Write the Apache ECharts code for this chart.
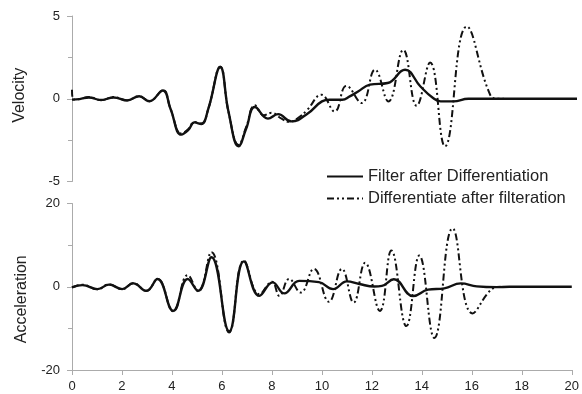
<!DOCTYPE html>
<html>
<head>
<meta charset="utf-8">
<script src="https://cdn.jsdelivr.net/npm/echarts@6/dist/echarts.min.js"></script>
<style>
  html, body { margin: 0; padding: 0; background: #fff; }
  #chart { width: 582px; height: 394px; }
</style>
</head>
<body>
<div id="chart"></div>
<script>
"use strict";
// legend names
var seriesNames = ['Filter after Differentiation', 'Differentiate after filteration'];

// velocity, [time, value]
var velFilter = [[0,-0.05],[0.3,-0.02],[0.67,0.08],[1.15,-0.08],[1.65,0.08],[2.18,-0.1],[2.66,0.15],[3.06,-0.15],
  [3.6,0.5],[3.9,-0.6],[4.33,-2.17],[4.6,-1.9],[4.85,-1.43],[5.12,-1.53],[5.4,-0.6],[5.87,1.9],[6.2,-0.8],
  [6.6,-2.87],[6.9,-1.8],[7.24,-0.5],[7.76,-1.2],[8.16,-0.93],[8.69,-1.37],[9.35,-0.87],[9.9,-0.16],[10.2,-0.06],
  [10.7,-0.06],[11.0,0.14],[11.33,0.44],[11.8,0.85],[12.5,0.95],[13.19,1.75],[13.8,0.74],[14.3,0.04],[14.6,-0.16],
  [15.1,-0.16],[15.7,0],[17,0],[20,0]];
var velDiff = [[0,0.55],[0.05,-0.05],[0.3,-0.02],[0.67,0.1],[1.15,-0.08],[1.65,0.1],[2.18,-0.1],[2.66,0.15],[3.06,-0.15],
  [3.6,0.5],[3.9,-0.6],[4.33,-2.1],[4.6,-1.85],[4.85,-1.4],[5.12,-1.5],[5.4,-0.6],[5.87,1.95],[6.2,-0.8],
  [6.6,-2.8],[6.9,-1.7],[7.24,-0.4],[7.6,-1.0],[7.9,-0.85],[8.3,-1.2],[8.6,-1.4],[8.96,-1.15],[9.3,-0.7],
  [9.88,0.24],[10.4,-0.77],[10.87,0.78],[11.47,-0.26],[12,1.75],[12.53,-0.16],[13.12,2.95],[13.65,-0.42],
  [14.18,2.19],[14.77,-2.87],[15.63,4.36],[16.56,0.24],[16.9,0],[17.1,0]];

// acceleration, [time, value]
var accFilter = [[0,-0.15],[0.42,0.4],[1.02,-0.56],[1.48,0.5],[2.01,-0.56],[2.45,0.8],[2.98,-0.97],[3.42,1.87],
  [4.05,-5.8],[4.63,1.87],[5.05,-0.97],[5.58,7.1],[6.29,-10.7],[6.88,6.1],[7.5,-2.2],[8.03,1.06],[8.49,-1.6],
  [9.09,1.4],[9.88,1.1],[10.45,-0.56],[11.0,1.3],[11.5,0.65],[12.1,0.05],[12.4,0.2],[12.88,1.8],[13.65,-2.25],
  [14.25,-0.7],[14.9,-0.4],[15.56,0.8],[16.2,0.1],[17,-0.1],[17.5,0],[20,0]];
var accDiff = [[0,-0.15],[0.42,0.5],[1.02,-0.6],[1.48,0.6],[2.01,-0.6],[2.45,0.9],[2.98,-1.0],[3.42,1.9],
  [4.05,-5.9],[4.63,2.8],[5.05,-1.1],[5.58,8.3],[6.29,-11.0],[6.88,6.3],[7.5,-1.8],[8.0,1.2],[8.3,-2.2],
  [8.69,1.87],[9.15,-1.4],[9.68,4.3],[10.28,-3.6],[10.8,4.3],[11.27,-3.8],[11.73,5.75],[12.32,-5.8],
  [12.78,8.7],[13.38,-9.45],[13.9,7.5],[14.5,-12.3],[15.23,14],[16.03,-6.4],[16.8,-0.56],[17.15,0]];

var axisGrey = '#ababab';
var labelColor = '#222';
var fontFam = '"Liberation Sans", Arial, sans-serif';
var dashDot = [7, 3, 2, 3, 2, 3];

function yAx(idx, name, lim, gap, pad) {
    return {
        gridIndex: idx,
        type: 'value',
        name: name,
        nameLocation: 'middle',
        nameGap: gap,
        nameRotate: 90,
        nameTextStyle: { fontSize: 16, color: labelColor, fontFamily: fontFam, padding: pad },
        min: -lim, max: lim, interval: lim,
        axisLine: { show: true, lineStyle: { color: axisGrey, width: 1 } },
        axisTick: { show: true, length: 5, lineStyle: { color: axisGrey } },
        minorTick: { show: true, splitNumber: 2, length: 4, lineStyle: { color: axisGrey } },
        splitLine: { show: false },
        axisLabel: { fontSize: 13, color: labelColor, fontFamily: fontFam, margin: 12 }
    };
}

function lineSeries(name, x, y, data, dashed) {
    return {
        name: name,
        type: 'line',
        xAxisIndex: x,
        yAxisIndex: y,
        data: data,
        smooth: 0.45,
        symbol: 'none',
        showSymbol: false,
        z: dashed ? 2 : 3,
        lineStyle: { color: '#111', width: dashed ? 2 : 2.4, type: dashed ? dashDot : 'solid' },
        itemStyle: { color: '#111' }
    };
}

var myChart = echarts.init(document.getElementById('chart'), null, { renderer: 'canvas' });
var option = {
    animation: false,
    backgroundColor: '#fff',
    textStyle: { fontFamily: fontFam },
    legend: {
        data: seriesNames,
        orient: 'vertical',
        left: 321,
        top: 163,
        itemWidth: 36,
        itemHeight: 14,
        itemGap: 5,
        itemStyle: { opacity: 0 },
        textStyle: { fontSize: 16.5, color: labelColor, fontFamily: fontFam }
    },
    grid: [
        { left: 72, right: 5, top: 16, height: 165.5 },
        { left: 72, right: 5, top: 203.5, height: 166.5 }
    ],
    xAxis: [
        { gridIndex: 0, type: 'value', min: 0, max: 20, interval: 2, show: false },
        {
            gridIndex: 1, type: 'value', min: 0, max: 20, interval: 2,
            axisLine: { show: true, onZero: false, lineStyle: { color: axisGrey, width: 1 } },
            axisTick: { show: true, length: 5, lineStyle: { color: axisGrey } },
            splitLine: { show: false },
            axisLabel: { fontSize: 13, color: labelColor, fontFamily: fontFam, margin: 10 }
        }
    ],
    yAxis: [
        yAx(0, 'Velocity', 5, 44, [0, 0, 0, 7]),
        yAx(1, 'Acceleration', 20, 42, [0, 25, 0, 0])
    ],
    series: [
        lineSeries(seriesNames[0], 0, 0, velFilter, false),
        lineSeries(seriesNames[1], 0, 0, velDiff, true),
        lineSeries(seriesNames[0], 1, 1, accFilter, false),
        lineSeries(seriesNames[1], 1, 1, accDiff, true)
    ]
};
myChart.setOption(option);

window.onresize = function () {
    myChart.resize();
};
</script>
</body>
</html>
